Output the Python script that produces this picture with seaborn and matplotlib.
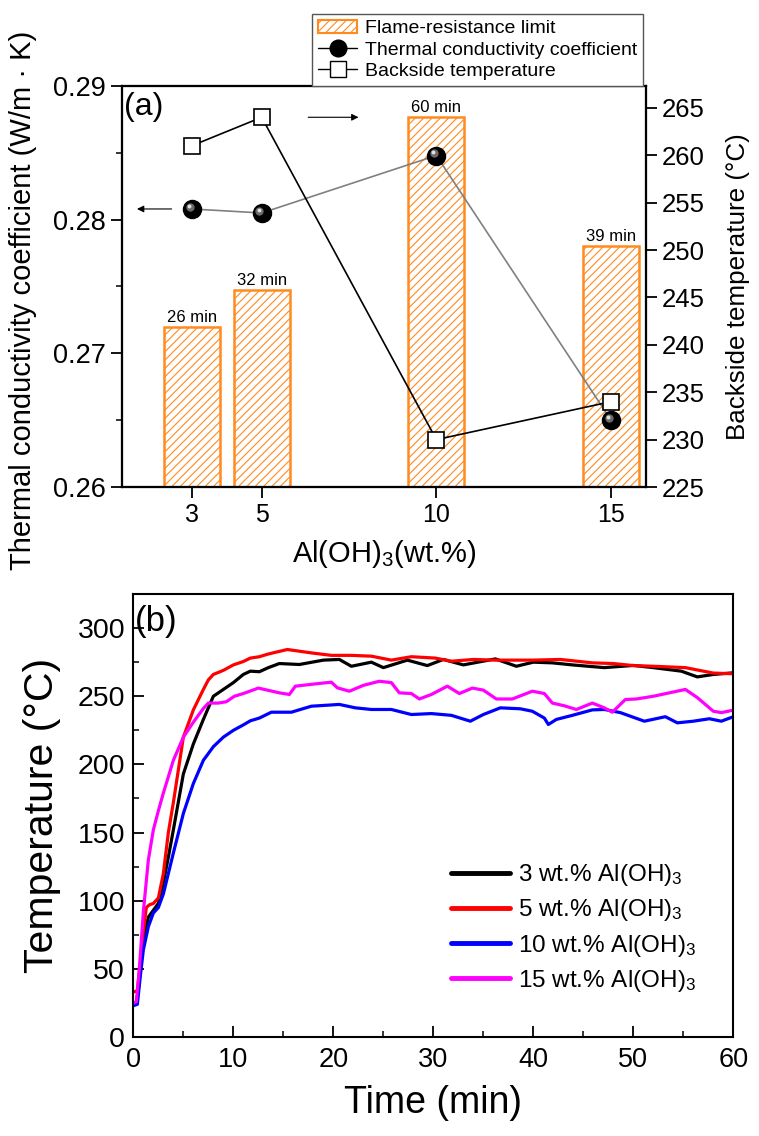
import matplotlib
matplotlib.use("Agg")
import numpy as np
import pandas as pd
import matplotlib.pyplot as plt
import matplotlib.transforms as mtrans
from matplotlib.ticker import MultipleLocator, FormatStrFormatter
from matplotlib.lines import Line2D
from matplotlib.patches import Patch
import seaborn as sns

sns.set_theme(style="ticks")
plt.rcParams["font.family"] = ["Liberation Sans", "DejaVu Sans"]
plt.rcParams["mathtext.fontset"] = "custom"
plt.rcParams["mathtext.rm"] = "Liberation Sans"
plt.rcParams["mathtext.it"] = "Liberation Sans:italic"
plt.rcParams["mathtext.default"] = "regular"
plt.rcParams["hatch.linewidth"] = 0.8
plt.rcParams["axes.edgecolor"] = "black"
plt.rcParams["xtick.color"] = "black"
plt.rcParams["ytick.color"] = "black"
plt.rcParams["text.color"] = "black"
plt.rcParams["axes.labelcolor"] = "black"

# ---------------- data: panel (a) ----------------
content = [3, 5, 10, 15]                     # Al(OH)3 wt.%
flame_minutes = [26, 32, 60, 39]             # flame-resistance limit (min)
thermal_cond = [0.2808, 0.2805, 0.2848, 0.2650]   # W/m·K
backside_temp = [261, 264, 230, 234]         # °C

# ---------------- data: panel (b) ----------------
t_3 = [0, 0.3, 0.5, 1, 1.5, 2, 2.5, 3, 3.5, 4, 5, 6, 7, 8, 9, 10, 11, 11.7, 12.6,
       13.5, 14.6, 16.6, 19, 20.6, 21.8, 23.8, 25, 27.4, 29.4, 31, 33, 36.2, 38.3,
       40, 41.9, 43.9, 47.1, 50, 52, 54.8, 56.4, 58, 60]
T_3 = [25, 25, 35, 71, 88, 93, 98, 113, 132, 152, 193, 215, 233, 250, 255, 260, 266,
       268.4, 268, 271, 274, 273.3, 276.5, 277, 272, 275, 271, 276.5, 272.5, 277, 273,
       277.4, 272, 275, 274.5, 273, 271, 272.6, 271, 268.4, 264.2, 266, 267.2]

t_5 = [0, 0.4, 0.7, 1, 1.3, 1.6, 2, 2.5, 3, 3.5, 4, 5, 6, 7, 7.5, 8, 9, 10, 11, 11.7,
       12.6, 13.5, 15.4, 17.8, 19.8, 21.8, 23.8, 25.8, 27.8, 30.2, 31.8, 34, 36.2, 40,
       42.7, 45.9, 48, 50, 52, 55.2, 58, 60]
T_5 = [33, 34, 55, 78, 95, 97, 98, 102, 120, 150, 172, 220, 240, 255, 262, 266, 269,
       273, 275.5, 278, 279, 281, 284.3, 281.8, 280, 280, 279.4, 276.5, 279, 278,
       275.7, 277, 276.5, 276.5, 277, 274.5, 274, 272.5, 272, 271, 267, 266.5]

t_10 = [0, 0.4, 0.7, 1, 1.5, 2, 2.5, 3, 3.5, 4, 5, 6, 7, 8, 9, 10, 11, 11.7, 12.6,
        13.8, 15.8, 17.8, 20.6, 22.2, 23.8, 25.8, 27.8, 29.8, 31.8, 33.7, 35, 36.7,
        38.7, 39.9, 41.1, 41.5, 42.3, 43.9, 45.9, 47.1, 48.7, 51.1, 53.2, 54.4, 56,
        57.6, 58.8, 60]
T_10 = [23, 24, 45, 64, 81, 91, 95, 105, 120, 135, 164, 186, 203, 213, 220, 225, 229,
        232, 234, 238.3, 238.3, 242.7, 244, 241.5, 240.3, 240.3, 236.6, 237.3, 236,
        231.7, 236.6, 241.5, 240.8, 239, 234, 229.3, 233, 236, 240, 240.3, 238, 231.7,
        235, 230.5, 231.7, 233.5, 231.7, 235]

t_15 = [0, 0.3, 0.6, 1, 1.5, 2, 2.5, 3, 4, 5, 6, 7, 7.5, 8.5, 9.3, 10.1, 11, 12.5,
        14.6, 15.6, 16.2, 18.6, 19.8, 20.4, 21.6, 23, 24.6, 25.8, 26.6, 27.8, 28.6,
        29.8, 31.4, 32.6, 33.9, 35, 36.3, 37.9, 39.9, 41.1, 41.9, 43.1, 44.3, 45.9,
        47.1, 47.9, 49.2, 50.3, 52, 53.6, 55.2, 56.4, 58, 58.8, 60]
T_15 = [25, 26, 50, 92, 130, 152, 166, 179, 203, 220, 231, 241, 245, 245, 246, 250,
        252, 256, 252.5, 251.3, 257.4, 259.4, 260.3, 256.2, 253.7, 258, 261, 260,
        252.5, 252, 248, 251.3, 257.4, 252, 256, 254.5, 248, 248, 253.7, 252, 245, 243,
        240.3, 245, 241.5, 238.3, 247.6, 248, 250, 252.5, 255, 249, 239, 238, 239.8]

series_labels = [r"3 wt.% Al(OH)$_3$", r"5 wt.% Al(OH)$_3$",
                 r"10 wt.% Al(OH)$_3$", r"15 wt.% Al(OH)$_3$"]
series_colors = ["#000000", "#FF0000", "#0000FF", "#FF00FF"]

ORANGE = "#FF8A1E"

fig = plt.figure(figsize=(7.59, 11.36), dpi=100)

# ====================== panel (a) ======================
ax_bar = fig.add_axes([0.1607, 0.5713, 0.6904, 0.3530])
ax_l = ax_bar.twinx()
ax_r = ax_bar.twinx()

sns.barplot(x=content, y=flame_minutes, native_scale=True, ax=ax_bar,
            color="white", saturation=1, errorbar=None)
for p in ax_bar.patches:
    p.set_facecolor("white")
    p.set_edgecolor(ORANGE)
    p.set_linewidth(1.8)
    p.set_hatch("////")
for xv, m in zip(content, flame_minutes):
    ax_bar.annotate(f"{m} min", (xv, m), xytext=(0, 1.5), textcoords="offset points",
                    ha="center", va="bottom", fontsize=12)
ax_bar.set_ylim(0, 65)
ax_bar.yaxis.set_visible(False)

# thermal conductivity (left axis)
ax_l.yaxis.tick_left()
ax_l.yaxis.set_label_position("left")
sns.lineplot(x=content, y=thermal_cond, ax=ax_l, color="#808080", lw=1.2)
ax_l.plot(content, thermal_cond, "o", ms=13, color="black", mec="black", zorder=3)
hl1 = mtrans.offset_copy(ax_l.transData, fig=fig, x=-1.6, y=1.6, units="points")
hl2 = mtrans.offset_copy(ax_l.transData, fig=fig, x=-2.2, y=2.2, units="points")
ax_l.plot(content, thermal_cond, "o", ms=6, color="#6a6a6a", mew=0, transform=hl1, zorder=4)
ax_l.plot(content, thermal_cond, "o", ms=2.8, color="#e0e0e0", mew=0, transform=hl2, zorder=5)
ax_l.set_ylim(0.26, 0.29)
ax_l.yaxis.set_major_locator(MultipleLocator(0.01))
ax_l.yaxis.set_minor_locator(MultipleLocator(0.005))
ax_l.yaxis.set_major_formatter(FormatStrFormatter("%.2f"))
ax_l.set_ylabel("Thermal conductivity coefficient (W/m · K)", fontsize=21)
ax_l.yaxis.set_label_coords(-0.163, 0.465)
ax_l.annotate("", xy=(1.35, thermal_cond[0]), xytext=(2.5, thermal_cond[0]),
              arrowprops=dict(arrowstyle="-|>", color="black", lw=0.8, mutation_scale=10))

# backside temperature (right axis)
sns.lineplot(x=content, y=backside_temp, ax=ax_r, color="black", lw=1.2)
ax_r.plot(content, backside_temp, "s", ms=12, mfc="white", mec="black", mew=1.2, zorder=3)
ax_r.set_ylim(225, 267.3)
ax_r.yaxis.set_major_locator(MultipleLocator(5))
ax_r.set_ylabel("Backside temperature (°C)", fontsize=18.7, labelpad=15)
ax_r.annotate("", xy=(7.85, backside_temp[1]), xytext=(6.25, backside_temp[1]),
              arrowprops=dict(arrowstyle="-|>", color="black", lw=0.8, mutation_scale=10))

ax_bar.set_xlim(1, 16)
ax_bar.set_xticks(content)
ax_bar.set_xticklabels([str(c) for c in content])
ax_bar.set_xlabel(r"Al(OH)$_3$(wt.%)", fontsize=21, labelpad=8)
ax_bar.tick_params(axis="x", direction="out", length=8, width=1.3, labelsize=18, top=False)
ax_l.tick_params(axis="y", which="major", direction="out", length=8, width=1.3, labelsize=19.5)
ax_r.tick_params(axis="y", which="major", direction="out", length=8, width=1.3, labelsize=18.5)
for a in (ax_l, ax_r):
    a.tick_params(axis="y", which="minor", direction="out", length=4, width=1.1)
for a in (ax_bar, ax_l, ax_r):
    for s in a.spines.values():
        s.set_linewidth(1.5)
        s.set_color("black")
ax_l.text(0.003, 0.985, "(a)", transform=ax_l.transAxes, fontsize=23, va="top", ha="left")

leg_a_handles = [
    Patch(facecolor="white", edgecolor=ORANGE, hatch="////", lw=1.5),
    Line2D([], [], color="black", lw=1, marker="o", ms=12, mfc="black", mec="black"),
    Line2D([], [], color="black", lw=1, marker="s", ms=11, mfc="white", mec="black"),
]
leg_a = ax_r.legend(leg_a_handles, ["Flame-resistance limit", "Thermal conductivity coefficient",
                                    "Backside temperature"],
                    loc="lower right", bbox_to_anchor=(0.994, 1.0), borderaxespad=0,
                    fontsize=14, frameon=True, fancybox=False, edgecolor="#555555",
                    framealpha=1, handlelength=2.0, labelspacing=0.2, borderpad=0.3,
                    handletextpad=0.4)
leg_a.get_frame().set_linewidth(1.0)

# ====================== panel (b) ======================
ax_b = fig.add_axes([0.1757, 0.0871, 0.7905, 0.39])
frames = []
for lab, tt, TT in zip(series_labels, [t_3, t_5, t_10, t_15], [T_3, T_5, T_10, T_15]):
    frames.append(pd.DataFrame({"Time": tt, "Temp": TT, "Sample": lab}))
df = pd.concat(frames, ignore_index=True)
sns.lineplot(data=df, x="Time", y="Temp", hue="Sample", hue_order=series_labels,
             palette=dict(zip(series_labels, series_colors)), estimator=None,
             sort=False, lw=2.3, ax=ax_b, legend=False)
ax_b.set_xlim(0, 60)
ax_b.set_ylim(0, 325)
ax_b.xaxis.set_major_locator(MultipleLocator(10))
ax_b.xaxis.set_minor_locator(MultipleLocator(5))
ax_b.yaxis.set_major_locator(MultipleLocator(50))
ax_b.yaxis.set_minor_locator(MultipleLocator(25))
ax_b.tick_params(which="major", direction="in", length=8, width=1.3)
ax_b.tick_params(which="minor", direction="in", length=4, width=1.1)
ax_b.tick_params(axis="x", labelsize=19.5, pad=7)
ax_b.tick_params(axis="y", labelsize=20.5, pad=6)
for s in ax_b.spines.values():
    s.set_linewidth(1.5)
    s.set_color("black")
ax_b.set_xlabel("Time (min)", fontsize=27, labelpad=9)
ax_b.set_ylabel("Temperature (°C)", fontsize=29.5, labelpad=12)
ax_b.text(0.003, 0.975, "(b)", transform=ax_b.transAxes, fontsize=25, va="top", ha="left")

leg_b_handles = [Line2D([], [], color=c, lw=3.5) for c in series_colors]
ax_b.legend(leg_b_handles, series_labels, loc="upper left", bbox_to_anchor=(0.53, 0.395),
            borderaxespad=0, borderpad=0, frameon=False, fontsize=17.5, handlelength=2.4,
            handletextpad=0.35, labelspacing=0.38)

fig.savefig("out.png", dpi=100)
